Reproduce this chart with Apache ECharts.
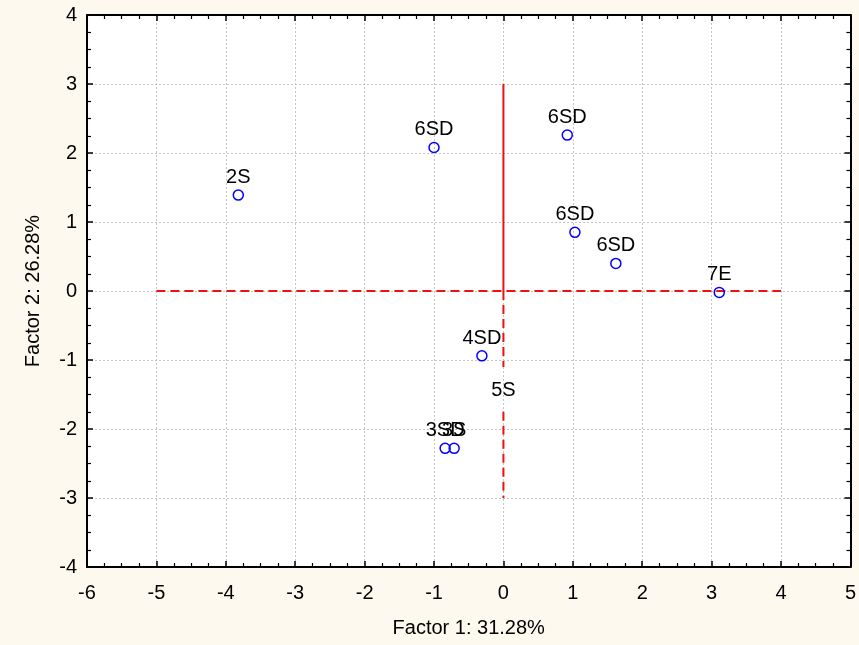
<!DOCTYPE html>
<html>
<head>
<meta charset="utf-8">
<script src="https://cdn.jsdelivr.net/npm/echarts@6/dist/echarts.min.js"></script>
<style>
html,body{margin:0;padding:0;background:#fdf9ee;}
#c{width:859px;height:645px;}
</style>
</head>
<body>
<div id="c"></div>
<script>
// Point labels and factor scores
var labels = ['2S', '6SD', '6SD', '6SD', '6SD', '7E', '4SD', '3SD', '3S', '5S'];
var factor1 = [-3.82, -1.00, 0.92, 1.03, 1.62, 3.11, -0.31, -0.84, -0.71, 0.00];
var factor2 = [1.39, 2.08, 2.26, 0.85, 0.40, -0.02, -0.94, -2.28, -2.28, -1.70];
var hiddenMarker = [false, false, false, false, false, false, false, false, false, true];

// Reference lines (red)
var vSolid = [[0, 3], [0, 0]];
var vDash1 = [[0, 0], [0, -1.1]];
var vDash2 = [[0, -1.75], [0, -3]];
var hDash = [[-5, 0], [4, 0]];

// Axis settings
var xMin = -6, xMax = 5, xStep = 1;
var yMin = -4, yMax = 4, yStep = 1;
var xTitle = 'Factor 1: 31.28%';
var yTitle = 'Factor 2: 26.28%';

var FONT = 'Liberation Sans, Arial, sans-serif';

var points = labels.map(function (l, i) {
  var item = { value: [factor1[i], factor2[i]], name: l };
  if (hiddenMarker[i]) {
    item.itemStyle = { color: 'transparent', borderColor: 'transparent' };
  }
  return item;
});

function axisCommon(showLabel) {
  return {
    axisLine: { show: true, onZero: false, lineStyle: { color: '#000', width: 2 } },
    axisTick: { show: true, inside: true, length: 6, lineStyle: { color: '#000', width: 1.5 } },
    minorTick: { show: true, splitNumber: 4, length: 4, lineStyle: { color: '#000', width: 1.2 } },
    axisLabel: { show: showLabel, color: '#000', fontSize: 20, fontFamily: FONT },
    splitLine: { show: false }
  };
}

var xBottom = Object.assign(axisCommon(true), {
  type: 'value', min: xMin, max: xMax, interval: xStep, position: 'bottom',
  name: xTitle, nameLocation: 'middle', nameGap: 51,
  nameTextStyle: { color: '#000', fontSize: 20, fontFamily: FONT },
  splitLine: { show: true, lineStyle: { color: '#c4c4c4', type: [2, 2], width: 1 } }
});
xBottom.axisLabel.margin = 16;
var xTop = Object.assign(axisCommon(false), {
  type: 'value', min: xMin, max: xMax, interval: xStep, position: 'top'
});
var yLeft = Object.assign(axisCommon(true), {
  type: 'value', min: yMin, max: yMax, interval: yStep, position: 'left',
  name: yTitle, nameLocation: 'middle', nameGap: 44,
  nameTextStyle: { color: '#000', fontSize: 20, fontFamily: FONT },
  splitLine: { show: true, lineStyle: { color: '#c4c4c4', type: [2, 2], width: 1 } }
});
yLeft.axisLabel.margin = 10;
var yRight = Object.assign(axisCommon(false), {
  type: 'value', min: yMin, max: yMax, interval: yStep, position: 'right'
});

function redLine(data, dashed) {
  return {
    type: 'line', data: data, xAxisIndex: 0, yAxisIndex: 0,
    symbol: 'none', silent: true, animation: false, z: 1,
    lineStyle: { color: '#ee1111', width: 2, type: dashed ? [9, 5] : 'solid' }
  };
}

var chart = echarts.init(document.getElementById('c'), null, { renderer: 'canvas' });
chart.setOption({
  backgroundColor: '#fdf9ee',
  animation: false,
  grid: { left: 87, right: 3, top: 15, bottom: 78, show: true, backgroundColor: '#ffffff', borderWidth: 0 },
  xAxis: [xBottom, xTop],
  yAxis: [yLeft, yRight],
  series: [
    redLine(vSolid, false),
    redLine(vDash1, true),
    redLine(vDash2, true),
    redLine(hDash, true),
    {
      type: 'scatter', data: points, xAxisIndex: 0, yAxisIndex: 0,
      symbol: 'circle', symbolSize: 10, z: 5,
      itemStyle: { color: 'rgba(0,0,0,0)', borderColor: '#0000ff', borderWidth: 1.5, opacity: 1 },
      label: {
        show: true, position: 'top', distance: 2,
        formatter: function (p) { return p.name; },
        color: '#000', fontSize: 20, fontFamily: FONT, textBorderWidth: 0, opacity: 1
      }
    }
  ]
});
</script>
</body>
</html>
